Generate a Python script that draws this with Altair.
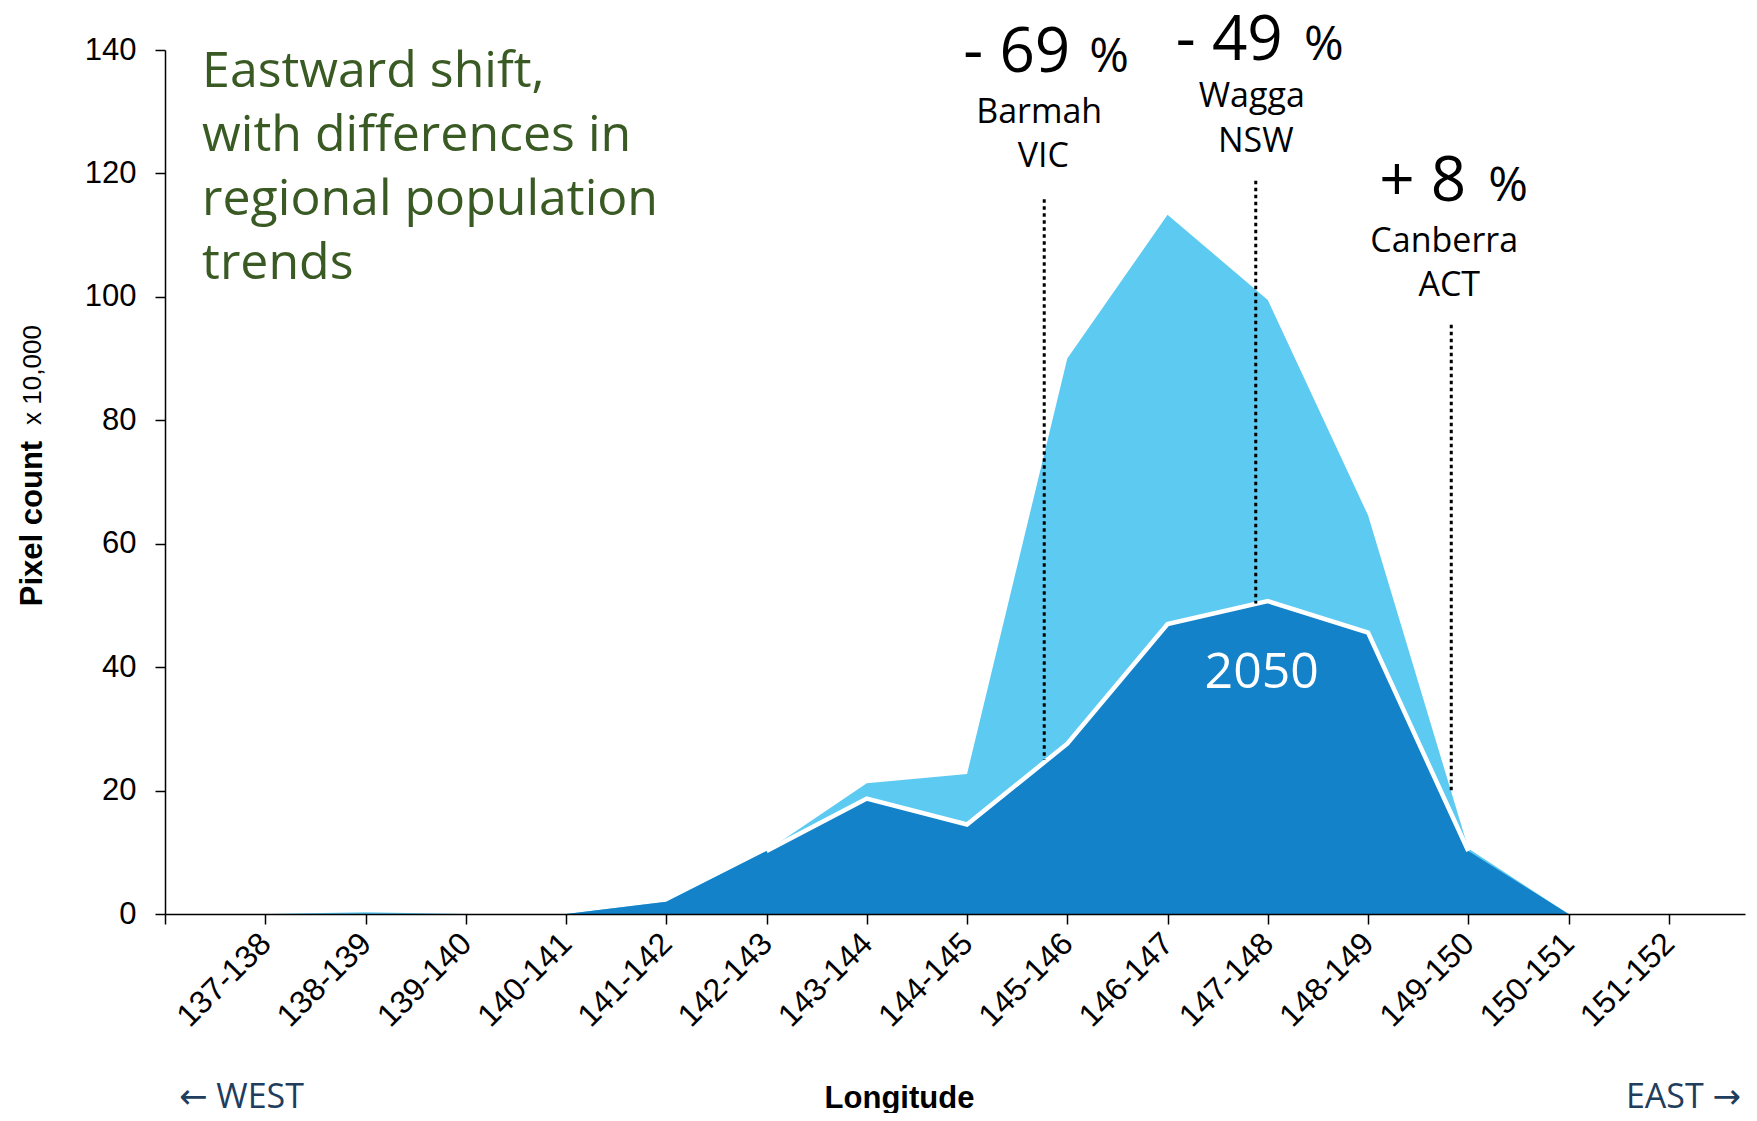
import altair as alt
import pandas as pd

# ---- data ----
categories = ["137-138", "138-139", "139-140", "140-141", "141-142", "142-143",
              "143-144", "144-145", "145-146", "146-147", "147-148", "148-149",
              "149-150", "150-151", "151-152"]
current = [0, 0.3, 0, 0, 2.0, 10.2, 21.2, 22.7, 90.0, 113.3, 99.5, 64.6, 10.6, 0, 0]
future_2050 = [0, 0, 0, 0, 2.0, 10.2, 18.7, 14.5, 27.6, 47.0, 50.7, 45.6, 10.2, 0, 0]
y_ticks = [0, 20, 40, 60, 80, 100, 120, 140]

# annotations (x in category-index units, y in axis units)
site_names = ["Barmah", "Wagga", "Canberra"]
site_states = ["VIC", "NSW", "ACT"]
site_change = ["- 69", "- 49", "+ 8"]
rule_x = [8.77, 10.88, 12.83]
rule_top = [115.8, 118.8, 95.5]
rule_bottom = [25.0, 50.3, 19.6]
change_x_end = [9.03, 11.15, 12.98]
pct_x = [9.22, 11.36, 13.20]
change_y = [136.4, 138.3, 115.5]
name_x = [8.72, 10.84, 12.76]
name_y = [128.2, 130.8, 107.3]
state_x = [8.76, 10.88, 12.81]
state_y = [121.1, 123.5, 100.1]

title_lines = ["Eastward shift,", "with differences in", "regional population", "trends"]
title_pos = (0.37, 134.0)
label_2050 = ("2050", 10.94, 36.6)

WEST, EAST = "\u2190 WEST", "EAST \u2192"
y_title = "Pixel count"
y_unit = "x 10,000"
x_title = "Longitude"

# ---- tables ----
idx = list(range(1, len(categories) + 1))
df = pd.DataFrame({"idx": idx, "cat": categories, "current": current, "future": future_2050})
rules = pd.DataFrame({"x": rule_x, "y1": rule_top, "y2": rule_bottom})
changes = pd.DataFrame({"x": change_x_end, "px": pct_x, "y": change_y, "t": site_change})
names = pd.DataFrame({"x": name_x + state_x, "y": name_y + state_y, "t": site_names + site_states})
title_df = pd.DataFrame({"x": [title_pos[0]], "y": [title_pos[1]], "t": ["\n".join(title_lines)]})
lbl_df = pd.DataFrame({"x": [label_2050[1]], "y": [label_2050[2]], "t": [label_2050[0]]})

SANS = "Open Sans, DejaVu Sans"
ARIAL = "Liberation Sans, Arial"

xscale = alt.Scale(domain=[0, 15.76], nice=False, zero=False)
yscale = alt.Scale(domain=[0, 140], nice=False)

label_expr = "[" + ",".join("'%s'" % c for c in categories) + "][datum.value - 1] || ''"

x_axis = alt.Axis(values=list(range(0, 16)), labelExpr=label_expr, labelAngle=-45,
                  labelAlign="right", labelBaseline="middle", labelFont=ARIAL,
                  labelFontSize=32, labelColor="black", labelPadding=14,
                  labelOverlap=False, labelFlush=False,
                  tickSize=10, tickColor="black", tickWidth=1.5,
                  domainColor="black", domainWidth=1.5, grid=False, zindex=1,
                  title=x_title, titleFont=ARIAL, titleFontSize=31,
                  titleFontWeight="bold", titleColor="black",
                  titleX=734, titleY=193, titleAlign="center",
                  titleBaseline="alphabetic", titleAnchor="middle")
y_axis = alt.Axis(values=y_ticks, labelFont=ARIAL, labelFontSize=31,
                  labelColor="black", labelPadding=19, tickSize=10,
                  tickColor="black", tickWidth=1.5, domainColor="black",
                  domainWidth=1.5, grid=False, zindex=1,
                  title=y_title, titleFont=ARIAL, titleFontSize=31,
                  titleFontWeight="bold", titleColor="black", titleAngle=270,
                  titleX=-124, titleY=473, titleAlign="center",
                  titleBaseline="alphabetic")

X = alt.X("idx:Q", scale=xscale, axis=x_axis)
Y = alt.Y("current:Q", scale=yscale, axis=y_axis)

base = alt.Chart(df)
area_cur = base.mark_area(color="#5DCAF2", opacity=1).encode(x=X, y=Y)
area_fut = base.mark_area(color="#1482C9", opacity=1).encode(
    x=X, y=alt.Y("future:Q", scale=yscale, axis=y_axis)
)
line_fut = base.transform_filter("datum.idx >= 6 && datum.idx <= 13").mark_line(
    color="white", strokeWidth=4.5
).encode(x=X, y=alt.Y("future:Q", scale=yscale, axis=y_axis))

rule_layer = alt.Chart(rules).mark_rule(color="black", strokeWidth=3, strokeDash=[3.5, 3.5]).encode(
    x=alt.X("x:Q", scale=xscale, axis=x_axis),
    y=alt.Y("y1:Q", scale=yscale, axis=y_axis), y2="y2:Q"
)

def xy(xf, yf="y"):
    return dict(x=alt.X(xf + ":Q", scale=xscale, axis=x_axis),
                y=alt.Y(yf + ":Q", scale=yscale, axis=y_axis))

change_txt = alt.Chart(changes).mark_text(font=SANS, fontSize=62, align="right",
                                          baseline="alphabetic", color="black").encode(
    text="t:N", **xy("x"))
pct_txt = alt.Chart(changes).mark_text(font=SANS, fontSize=48, align="left",
                                       baseline="alphabetic", color="black").encode(
    text=alt.value("%"), **xy("px"))
name_txt = alt.Chart(names).mark_text(font=SANS, fontSize=34, align="center",
                                      baseline="alphabetic", color="black").encode(
    text="t:N", **xy("x"))
title_txt = alt.Chart(title_df).mark_text(font=SANS, fontSize=50, align="left",
                                          baseline="alphabetic", color="#3A5A24",
                                          lineBreak="\n", lineHeight=64).encode(
    text="t:N", **xy("x"))
lbl_txt = alt.Chart(lbl_df).mark_text(font=SANS, fontSize=50, align="center",
                                      baseline="alphabetic", color="white").encode(
    text="t:N", **xy("x"))

unit_txt = alt.Chart(pd.DataFrame({"t": [y_unit]})).mark_text(
    font=ARIAL, fontSize=26, align="center", baseline="alphabetic", angle=270,
    color="black").encode(x=alt.value(-124), y=alt.value(325), text="t:N")
west_txt = alt.Chart(pd.DataFrame({"t": [WEST]})).mark_text(
    font=SANS, fontSize=34, align="left", baseline="alphabetic", color="#1F3D5C"
).encode(x=alt.value(14), y=alt.value(1058), text="t:N")
east_txt = alt.Chart(pd.DataFrame({"t": [EAST]})).mark_text(
    font=SANS, fontSize=34, align="right", baseline="alphabetic", color="#1F3D5C"
).encode(x=alt.value(1576), y=alt.value(1058), text="t:N")

chart = alt.layer(
    area_cur, area_fut, line_fut, rule_layer, change_txt, pct_txt, name_txt,
    title_txt, lbl_txt, unit_txt, west_txt, east_txt
).properties(
    width=1580, height=864,
    padding={"left": 157, "top": 42, "right": 4, "bottom": 199},
    autosize=alt.AutoSizeParams(type="none"),
).configure_view(stroke=None)

chart.save("out.html", embed_options={"renderer": "svg", "actions": False})
